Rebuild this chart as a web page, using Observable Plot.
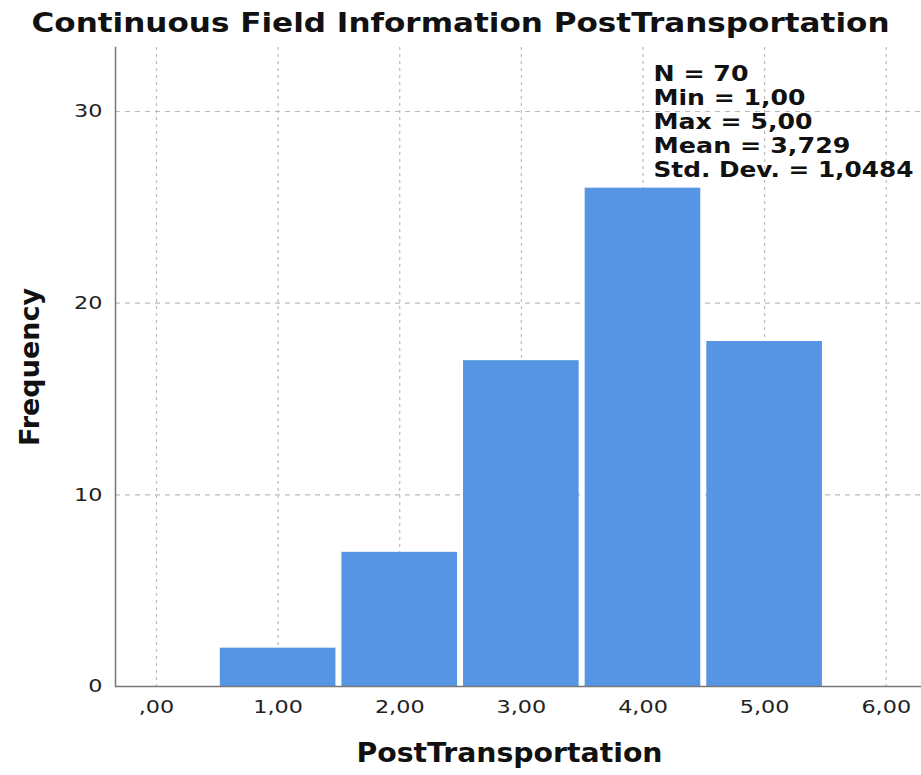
<!DOCTYPE html>
<html>
<head>
<meta charset="utf-8">
<script src="https://cdn.jsdelivr.net/npm/d3@7"></script>
<script src="https://cdn.jsdelivr.net/npm/@observablehq/plot@0.6"></script>
<style>
  html, body { margin: 0; padding: 0; background: #fff; }
  svg text { font-family: "DejaVu Sans", sans-serif; }
</style>
</head>
<body>
<div id="chart"></div>
<script>
const binCenters = [1, 2, 3, 4, 5];
const frequencies = [2, 7, 17, 26, 18];
const xTicks = [0, 1, 2, 3, 4, 5, 6];
const yTicks = [0, 10, 20, 30];
const statsLines = ["N = 70", "Min = 1,00", "Max = 5,00", "Mean = 3,729", "Std. Dev. = 1,0484"];
const titleText = "Continuous Field Information PostTransportation";
const xLabel = "PostTransportation";
const yLabel = "Frequency";

const bins = binCenters.map((c, i) => ({x1: c - 0.5, x2: c + 0.5, count: frequencies[i]}));
const fmtX = d => d === 0 ? ",00" : d.toFixed(2).replace(".", ",");

const chart = Plot.plot({
  width: 921,
  height: 775,
  marginLeft: 115,
  marginRight: 0,
  marginTop: 47,
  marginBottom: 89,
  style: {fontFamily: "DejaVu Sans, sans-serif", background: "#fff"},
  x: {domain: [-0.337, 6.29], ticks: xTicks, tickFormat: fmtX, label: null},
  y: {domain: [0, 33.34], ticks: yTicks, label: null},
  marks: [
    Plot.gridX(xTicks, {stroke: "#bbb", strokeOpacity: 1, strokeDasharray: "3,4", strokeWidth: 1.2}),
    Plot.gridY(yTicks.filter(d => d > 0), {stroke: "#bbb", strokeOpacity: 1, strokeDasharray: "5,5", strokeWidth: 1.2}),
    Plot.rectY(bins, {x1: "x1", x2: "x2", y: "count", fill: "#5595e3", insetLeft: 3, insetRight: 3}),
    Plot.axisX(xTicks, {tickSize: 0, tickPadding: 14, tickFormat: fmtX, fontSize: 18, fill: "#222", label: null}),
    Plot.axisY(yTicks, {tickSize: 0, tickPadding: 13, fontSize: 18, fill: "#222", label: null}),
    Plot.ruleY([0], {stroke: "#777", strokeWidth: 1.5}),
    Plot.frame({anchor: "left", stroke: "#777", strokeWidth: 1.5}),
    Plot.text([titleText], {frameAnchor: "top", lineAnchor: "middle", dx: -58, dy: -24, fontSize: 27, fontWeight: "bold", fill: "#111"}),
    Plot.text([xLabel], {frameAnchor: "bottom", lineAnchor: "middle", dx: -9, dy: 67, fontSize: 27, fontWeight: "bold", fill: "#111"}),
    Plot.text([yLabel], {frameAnchor: "left", textAnchor: "middle", lineAnchor: "middle", dx: -85, rotate: -90, fontSize: 27, fontWeight: "bold", fill: "#111"}),
    Plot.text([statsLines.join("\n")], {frameAnchor: "top-left", textAnchor: "start", lineAnchor: "top", dx: 538, dy: 16, fontSize: 22, fontWeight: "bold", lineHeight: 1.1, fill: "#111"})
  ]
});
document.getElementById("chart").appendChild(chart);

// The reference uses a horizontally wide rendering of the font: stretch glyphs to match.
const targets = new Map([
  [titleText, 858], [xLabel, 306],
  ["N = 70", 95], ["Min = 1,00", 152], ["Max = 5,00", 159], ["Mean = 3,729", 197], ["Std. Dev. = 1,0484", 260]
]);
d3.select(chart).selectAll("text, tspan").each(function() {
  if (this.tagName === "text" && this.querySelector("tspan")) return;
  const s = this.textContent;
  if (s === yLabel) return;
  const len = this.getComputedTextLength();
  const target = targets.has(s) ? targets.get(s) : len * 1.24;
  this.setAttribute("textLength", target);
  this.setAttribute("lengthAdjust", "spacingAndGlyphs");
});
</script>
</body>
</html>
